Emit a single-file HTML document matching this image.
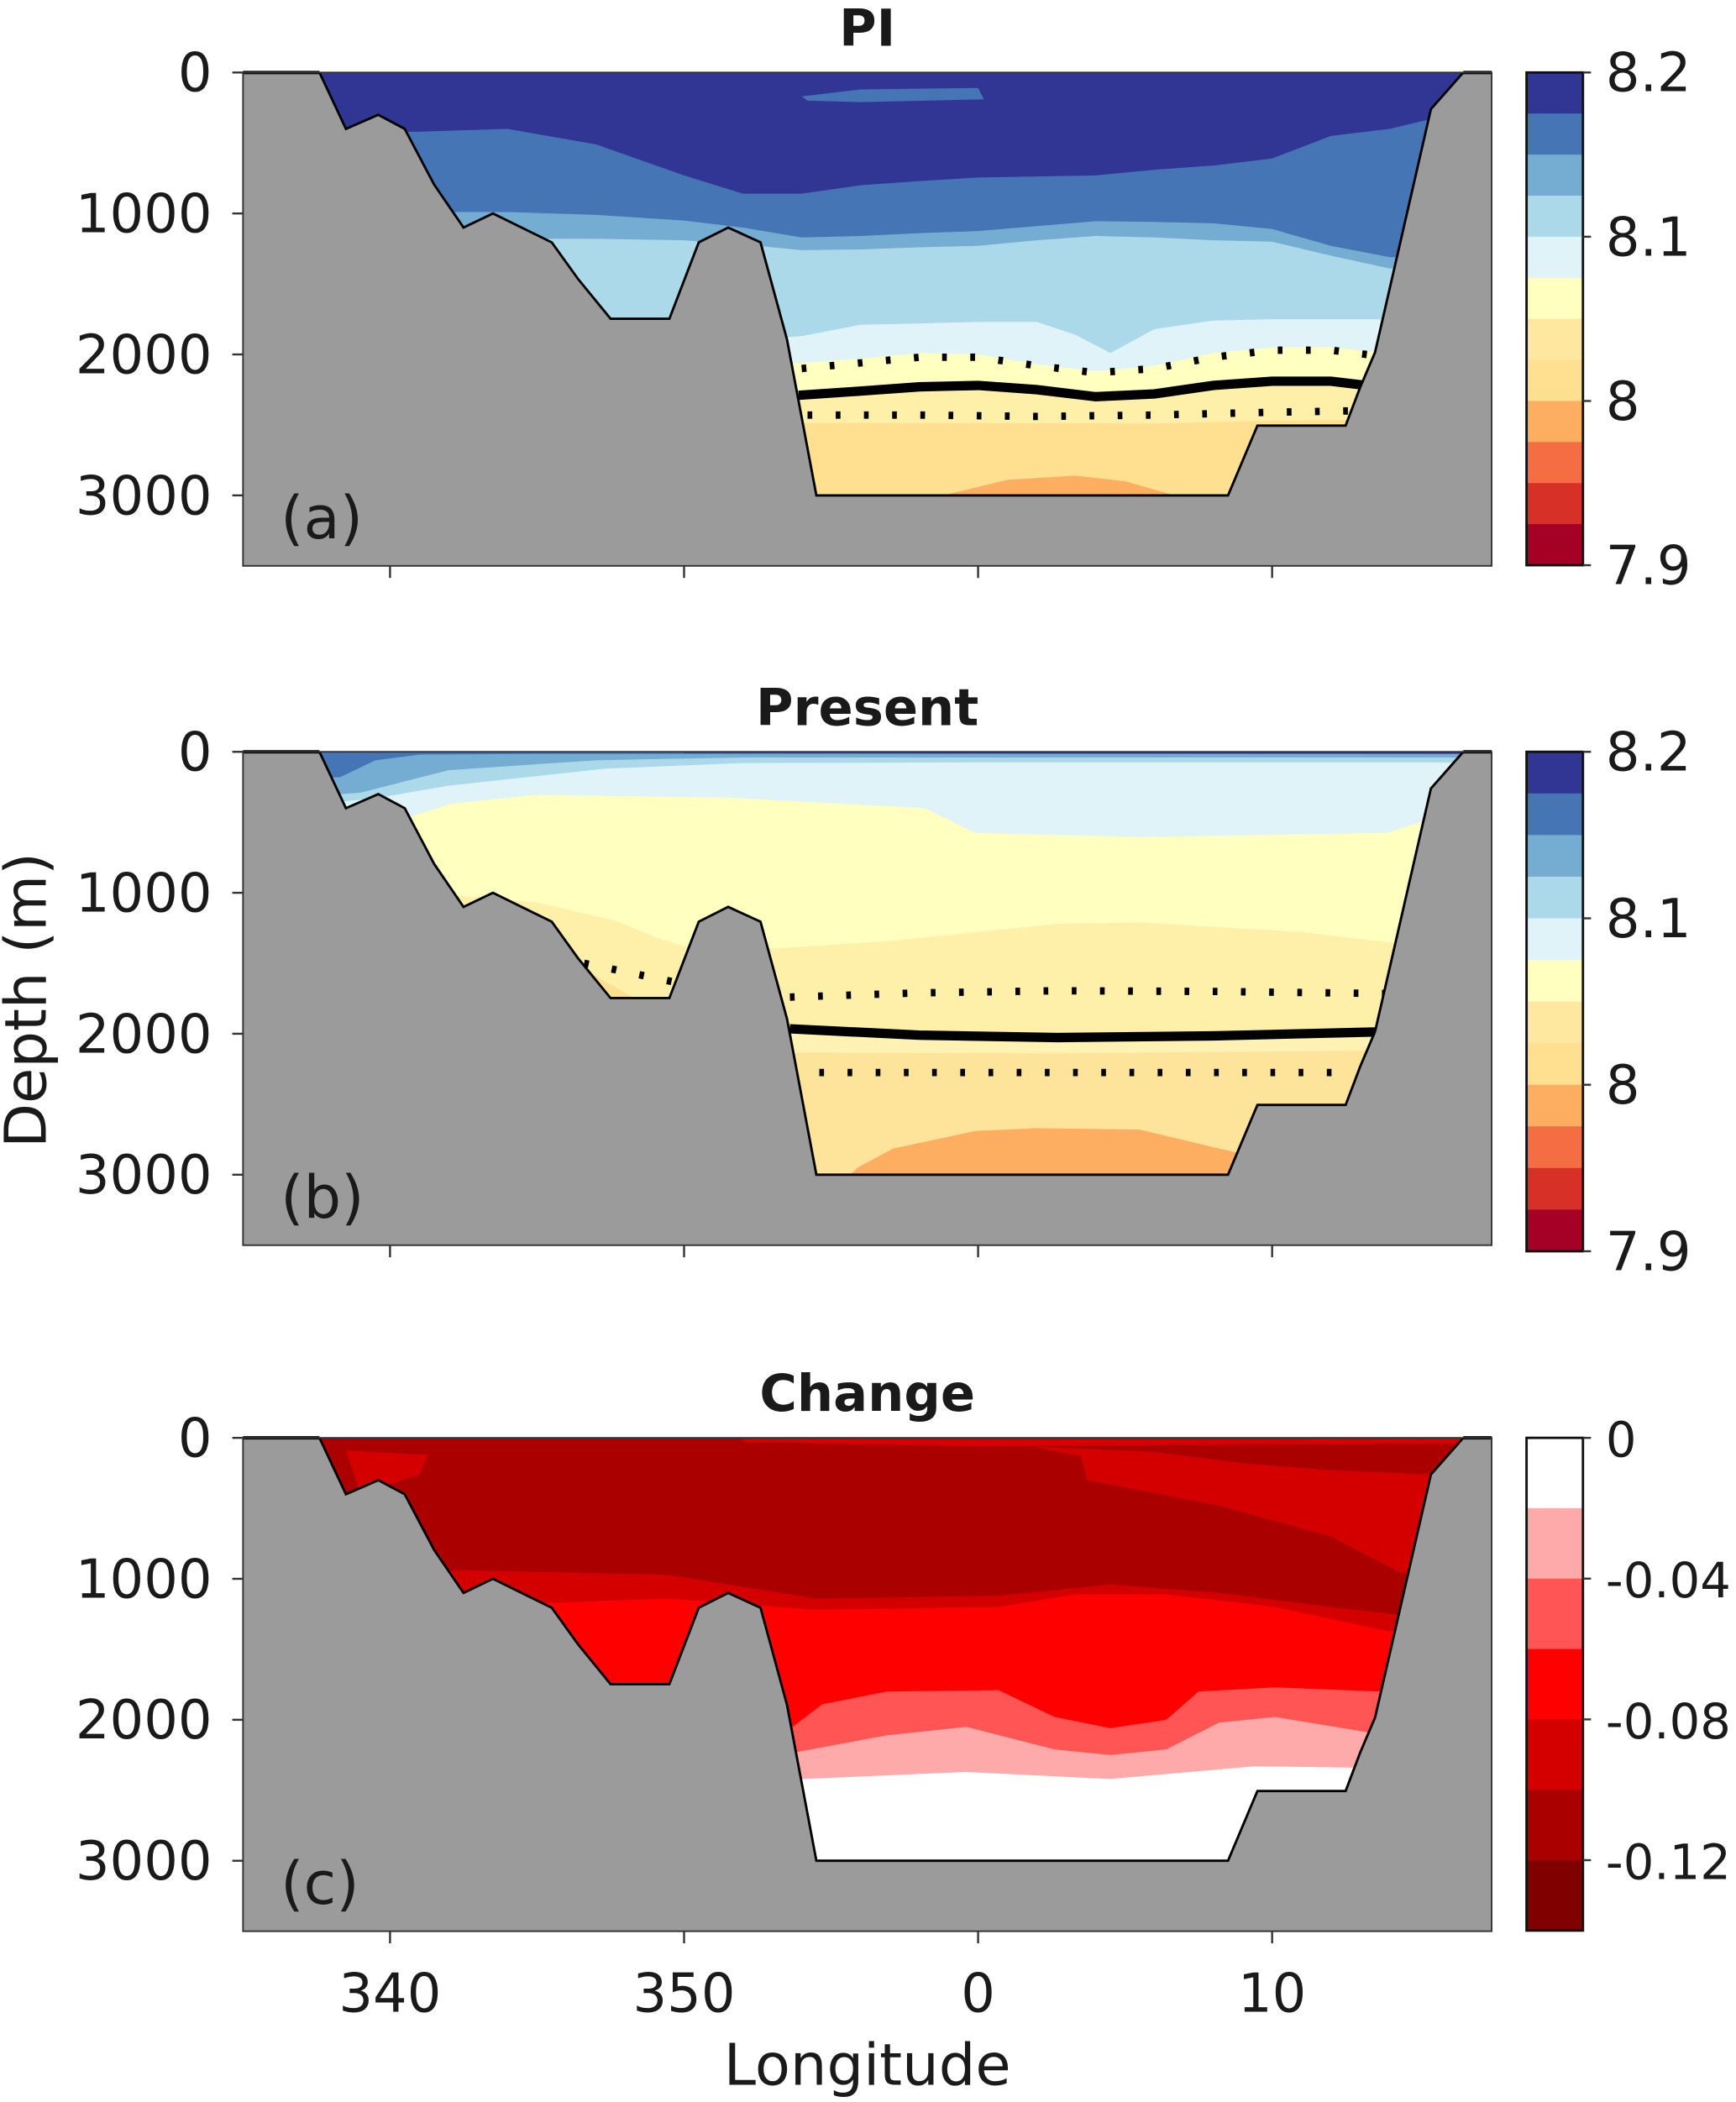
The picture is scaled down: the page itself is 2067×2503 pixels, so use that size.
<!DOCTYPE html>
<html><head><meta charset="utf-8"><style>
html,body{margin:0;padding:0;background:#fff}
svg{display:block}
text{font-family:"DejaVu Sans","Liberation Sans",sans-serif;fill:#1a1a1a}
</style></head><body>
<svg id="fig" width="2067" height="2503" viewBox="0 0 1293 1565.7" preserveAspectRatio="none" xmlns="http://www.w3.org/2000/svg"></svg>
<script>
// ---- data ----
const xTicks=[340,350,360,370];
const xTickLabels=["340","350","0","10"];
const yTicks=[0,1000,2000,3000];
const bathymetry=[[337.6,0],[338.5,400],[339.6,300],[340.5,400],[341.5,795],[342.5,1100],[343.5,1000],[345.5,1205],[346.4,1466],[347.5,1747],[349.5,1747],[350.5,1205],[351.5,1100],[352.6,1205],[353.5,1893],[354.5,3000],[368.5,3000],[369.5,2505],[372.5,2505],[373,2230],[373.5,1985],[375.4,260],[376.5,0]];
// panel a (PI)
const aTop="#313695";
const aB1=[[335,420],[341,420],[344,400],[347,510],[350,730],[352,860],[354,860],[356,800],[358,770],[360,745],[364,730],[366,690],[368,660],[370,610],[372,450],[374,400],[376,300],[378,300]];
const aB2=[[335,990],[344,990],[347,1010],[350,1050],[352,1100],[354,1170],[356,1160],[358,1140],[360,1125],[362,1090],[364,1055],[366,1060],[368,1070],[370,1110],[372,1230],[374,1310],[378,1310]];
const aB3=[[335,1175],[347,1180],[350,1190],[352,1220],[354,1260],[356,1255],[358,1240],[360,1230],[362,1190],[364,1160],[366,1170],[368,1190],[370,1200],[372,1300],[374,1390],[378,1400]];
const aB4=[[335,1900],[352,1900],[354,1870],[356,1790],[358,1780],[360,1770],[362,1770],[363.3,1860],[364.5,1990],[366,1820],[368,1760],[370,1750],[378,1750]];
const aB5=[[335,2080],[354,2060],[356,2030],[358,1990],[360,2000],[362,2070],[364,2120],[366,2080],[368,1990],[370,1950],[372,1950],[374,1990],[378,1990]];
const aDotUp=[[354,2100],[356,2060],[358,2020],[360,2020],[362,2080],[364,2130],[366,2100],[368,2020],[370,1970],[372,1970],[373.6,2010]];
const aSolid=[[353.9,2290],[356,2260],[358,2230],[360,2220],[362,2250],[364,2300],[366,2280],[368,2220],[370,2190],[372,2190],[373.2,2220]];
const aDotLo=[[354.2,2430],[358,2430],[362,2440],[366,2430],[370,2410],[372.8,2400]];
const aB7=[[335,2480],[366,2490],[370,2470],[378,2450]];
const aDome=[[357.5,3100],[358.8,3000],[361,2890],[363.3,2860],[365,2900],[366.7,3000],[368,3100]];
const aLens=[[354,170],[356,120],[360,110],[360.2,190],[356,210],[354.2,200]];
// panel b (Present)
const bTop="#4575b4";
const bB1=[[335,200],[338.3,180],[339.5,60],[341,20],[345,15],[378,15]];
const bB2=[[335,350],[339,290],[342,130],[347,60],[352,40],[378,40]];
const bB3=[[335,420],[339.5,330],[342,240],[347.3,120],[352,80],[360,75],[378,75]];
const bB4=[[335,500],[340.7,460],[342.1,367],[345,305],[351.5,325],[358.2,400],[359.9,575],[365.5,605],[373.9,575],[375.5,470],[378,470]];
const bLens=[[349.8,200],[352,130],[361.3,140],[361.3,210],[356,250],[351,240]];
const bStripe=[[350,0],[376.5,0],[376.5,14],[350,8]];
const bB5=[[335,1000],[341.7,1010],[345,1070],[347.7,1200],[349.1,1320],[350,1380],[353.2,1395],[357.1,1340],[362.7,1220],[365.5,1210],[371.1,1280],[374.5,1365],[378,1365]];
const bBasin=[[346.5,1530],[348.4,1760],[346,1760]];
const bDotUp=[[353.6,1740],[358,1710],[362.7,1695],[368,1700],[374,1715]];
const bDotBasin=[[346.6,1500],[349.6,1630]];
const bSolid=[[353.6,1965],[358,2010],[362.7,2027],[368,2015],[374,1985]];
const bDotLo=[[354.6,2275],[364,2275],[372.5,2275]];
const bB7=[[335,2120],[362.7,2140],[378,2110]];
const bDome=[[355.4,3050],[355.9,2950],[357.1,2815],[359.9,2690],[362,2670],[365.5,2680],[368.2,2815],[369.2,2860],[369.6,3050]];
// panel c (Change)
const cTop="#aa0000";
const cStrip=[[352,0],[376.5,0],[376.5,40],[360,60],[352,30]];
const cRight=[[361.8,60],[366,100],[369,180],[372,230],[375.5,260],[375.5,1000],[374.3,950],[372,700],[368.2,480],[363.7,300],[363.5,130]];
const cLeft=[[338.5,90],[341.3,120],[341,260],[339,400]];
const cBasin=[[346.7,1600],[349.3,1620],[349.3,1800],[346.5,1800]];
const cB1=[[335,940],[342.6,940],[349.4,970],[354.5,1140],[360.7,1120],[364.5,1040],[368.2,1100],[372,1200],[374.1,1250],[378,1250]];
const cB2=[[335,1170],[345.6,1170],[349.4,1140],[354.5,1220],[360.7,1200],[363.3,1110],[366.4,1110],[370.1,1200],[373.9,1370],[378,1400]];
const cB3=[[335,2050],[353.7,2050],[354.7,1890],[356.9,1800],[360.7,1790],[362.6,1980],[364.5,2060],[366.4,2000],[367.5,1800],[370.1,1770],[373.7,1800],[378,1800]];
const cB4=[[335,2230],[353.8,2230],[356.9,2110],[359.6,2050],[362.6,2210],[364.5,2250],[366.4,2210],[368.2,2020],[370.1,1980],[373.3,2090],[378,2090]];
const cB5=[[335,2420],[354,2420],[359.6,2370],[364.5,2420],[369.4,2330],[372.8,2340],[378,2340]];
// colorbars
const cbPH=["#313695","#4575b4","#74add1","#abd9e9","#e0f3f8","#ffffbf","#fee8a0","#fee090","#fdae61","#f46d43","#d73027","#a50026"];
const cbPHLabels=["8.2","8.1","8","7.9"];
const cbChg=["#ffffff","#ffaaaa","#ff5555","#ff0000","#d40000","#aa0000","#800000"];
const cbChgLabels=["0","-0.04","-0.08","-0.12"];

// ---- drawing ----
const NS="http://www.w3.org/2000/svg";
const svg=document.getElementById('fig');
function mk(tag,attrs,parent){const e=document.createElementNS(NS,tag);for(const k in attrs)e.setAttribute(k,attrs[k]);(parent||svg).appendChild(e);return e;}
const AX_L=181,AX_R=1111,PXDEG=21.9,PXM=0.105;
const X=lon=>AX_L+(lon-335)*PXDEG;
function pts(arr,Y){return arr.map(p=>X(p[0]).toFixed(2)+","+Y(p[1]).toFixed(2)).join(" ");}
function below(arr){const a=arr.slice();a.unshift([334,arr[0][1]]);a.push([379,arr[arr.length-1][1]]);a.push([379,4000]);a.push([334,4000]);return a;}
const panels=[
 {id:"a",top:54,title:"PI",label:"(a)",fill:aTop,layers:[[aB1,"#4575b4"],[aB2,"#74add1"],[aB3,"#abd9e9"],[aB4,"#e0f3f8"],[aB5,"#ffffbf"],[aSolid,"#fef0a8"],[aB7,"#fee090"]],
  polys:[[aLens,"#4575b4",0],[aDome,"#fdae61",1]],dots:[aDotUp,aDotLo],solid:aSolid,cb:cbPH,cbl:cbPHLabels,cbBot:421,nameSuffix:"pi"},
 {id:"b",top:560,title:"Present",label:"(b)",fill:bTop,layers:[[bB1,"#74add1"],[bB2,"#abd9e9"],[bB3,"#e0f3f8"],[bB4,"#ffffbf"],[bB5,"#fef0a8"],[bSolid,"#fff2b3"],[bB7,"#fee39a"]],
  polys:[[bStripe,"#313695",0],[bLens,"#ffffbf",0],[bBasin,"#fee090",1],[bDome,"#fdae61",1]],dots:[bDotUp,bDotBasin,bDotLo],solid:bSolid,cb:cbPH,cbl:cbPHLabels,cbBot:932,nameSuffix:"present"},
 {id:"c",top:1071,title:"Change",label:"(c)",fill:cTop,layers:[[cB1,"#d40000"],[cB2,"#ff0000"],[cB3,"#ff5555"],[cB4,"#ffaaaa"],[cB5,"#ffffff"]],
  polys:[[cStrip,"#d40000",0],[cRight,"#d40000",0],[cLeft,"#d40000",0],[cBasin,"#d40000",0]],dots:[],solid:null,cb:cbChg,cbl:cbChgLabels,cbBot:1438,nameSuffix:"change"}
];
const defs=mk('defs',{});
panels.forEach(P=>{
 const Y=d=>P.top+d*PXM;
 const bot=Y(3500);
 const g=mk('g',{});
 
 
 const cp=mk('clipPath',{id:'ocean-'+P.id},defs);
 mk('polygon',{points:pts(bathymetry,Y)},cp);
 const land=mk('rect',{x:AX_L,y:P.top,width:AX_R-AX_L,height:bot-P.top,fill:'#9b9b9b'},g);
 
 
 const og=mk('g',{'clip-path':'url(#ocean-'+P.id+')'},g);
 
 
 mk('rect',{x:AX_L,y:P.top,width:AX_R-AX_L,height:bot-P.top,fill:P.fill},og);
 P.polys.filter(p=>p[2]===0).forEach(p=>{const e=mk('polygon',{points:pts(p[0],Y),fill:p[1]},og);});
 P.layers.forEach(L=>{const e=mk('polygon',{points:pts(below(L[0]),Y),fill:L[1]},og);});
 P.polys.filter(p=>p[2]===1).forEach(p=>{const e=mk('polygon',{points:pts(p[0],Y),fill:p[1]},og);});
 P.dots.forEach(d=>{const e=mk('polyline',{points:pts(d,Y),fill:'none',stroke:'#000','stroke-width':5.5,'stroke-dasharray':'3.5 17.5'},og);});
 if(P.solid){const e=mk('polyline',{points:pts(P.solid,Y),fill:'none',stroke:'#000','stroke-width':7},og);}
 const bl=mk('polyline',{points:pts(bathymetry,Y),fill:'none',stroke:'#000','stroke-width':1.8},g);
 
 
 mk('line',{x1:AX_L,y1:P.top,x2:X(337.6),y2:P.top,stroke:'#000','stroke-width':2.5},g);
 mk('line',{x1:X(376.5),y1:P.top,x2:AX_R,y2:P.top,stroke:'#000','stroke-width':2.5},g);
 const fr=mk('rect',{x:AX_L,y:P.top,width:AX_R-AX_L,height:bot-P.top,fill:'none',stroke:'#333','stroke-width':1.2},g);
 
 
 yTicks.forEach(t=>{mk('line',{x1:AX_L-8,y1:Y(t),x2:AX_L,y2:Y(t),stroke:'#333','stroke-width':1.5},g);
  const tx=mk('text',{x:158,y:Y(t)+14,'text-anchor':'end','font-size':40},g);tx.textContent=t;
  
  });
 xTicks.forEach((t,i)=>{mk('line',{x1:X(t),y1:bot,x2:X(t),y2:bot+9,stroke:'#333','stroke-width':1.5},g);
  if(P.id==='c'){const tx=mk('text',{x:X(t),y:bot+60,'text-anchor':'middle','font-size':40},g);tx.textContent=xTickLabels[i];
   
   }});
 const ti=mk('text',{x:646,y:P.top-20,'text-anchor':'middle','font-size':38,'font-weight':'bold'},g);ti.textContent=P.title;
 
 
 const lb=mk('text',{x:209,y:P.top+347,'font-size':44},g);lb.textContent=P.label;
 
 
 // colorbar
 const cbg=mk('g',{},g);
 
 
 const n=P.cb.length,h=(P.cbBot-P.top)/n;
 P.cb.forEach((c,i)=>{mk('rect',{x:1137,y:P.top+i*h,width:42,height:h+0.5,fill:c},cbg);});
 mk('rect',{x:1137,y:P.top,width:42,height:P.cbBot-P.top,fill:'none',stroke:'#111','stroke-width':1.8},cbg);
 const step=(P.cbBot-P.top)/(P.id==='c'?3.5:3);
 P.cbl.forEach((l,i)=>{const yy=P.top+i*step;mk('line',{x1:1179,y1:yy,x2:1185,y2:yy,stroke:'#333','stroke-width':1.5},cbg);
  const tx=mk('text',{x:1196,y:yy+14,'font-size':P.id==='c'?36:40},cbg);tx.textContent=l;
  
  });
});
const xl=mk('text',{x:646,y:1553,'text-anchor':'middle','font-size':43});xl.textContent="Longitude";


const yl=mk('text',{x:0,y:0,'text-anchor':'middle','font-size':43,transform:'translate(34,745) rotate(-90)'});yl.textContent="Depth (m)";


</script>
</body></html>
